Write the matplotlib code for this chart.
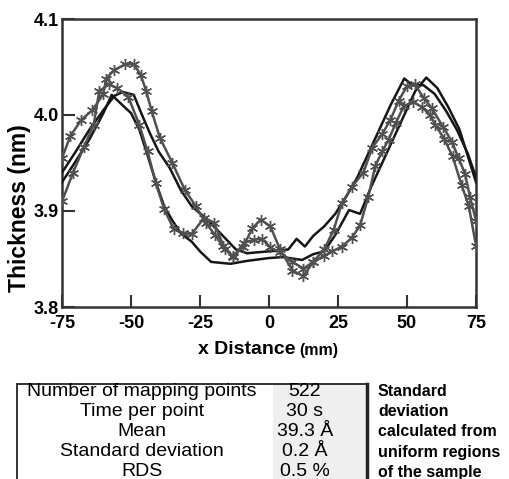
import matplotlib
matplotlib.use('Agg')
import matplotlib.pyplot as plt
from matplotlib.patches import Rectangle

# данные кривых (толщина, нм) по координате x, мм
black_a_x = [-75, -70, -65, -60, -57, -53, -50, -47, -44, -41, -38, -35, -32, -28, -25, -21,
             -14, -8, 0, 5, 12, 16, 20, 24, 29, 33, 37, 41, 45, 49, 53, 57, 61, 65, 69, 75]
black_a_y = [3.930, 3.952, 3.975, 4.002, 4.021, 4.010, 4.002, 3.985, 3.958, 3.930, 3.905, 3.890,
             3.877, 3.868, 3.858, 3.847, 3.845, 3.848, 3.851, 3.852, 3.849, 3.855, 3.858, 3.875,
             3.901, 3.897, 3.925, 3.950, 3.975, 4.000, 4.025, 4.039, 4.028, 4.008, 3.985, 3.930]

black_b_x = [-75, -70, -65, -60, -56, -53, -49, -46, -43, -40, -36, -32, -28, -24, -20, -16,
             -12, -8, -4, 0, 4, 7, 10, 13, 16, 20, 24, 28, 32, 36, 40, 44, 49, 52, 56, 60,
             64, 68, 72, 75]
black_b_y = [3.940, 3.962, 3.985, 4.005, 4.020, 4.024, 4.021, 4.000, 3.980, 3.962, 3.945, 3.922,
             3.905, 3.895, 3.884, 3.872, 3.860, 3.856, 3.857, 3.858, 3.859, 3.860, 3.871, 3.863,
             3.874, 3.884, 3.897, 3.915, 3.935, 3.960, 3.985, 4.010, 4.038, 4.031, 4.031, 4.022,
             4.005, 3.985, 3.960, 3.935]

star_a_x = [-75, -72, -68, -64, -60, -59, -56, -52, -49, -46.5, -44.5, -42.5, -39.5, -35, -30.5,
            -26.5, -23, -19.5, -16, -13, -9.5, -6, -3, 0.5, 4, 8.5, 12.5, 16, 19.8, 23, 26.4, 30,
            33, 36, 38.5, 41, 43.3, 46, 48.8, 52.2, 55.5, 58.4, 60.2, 63.5, 66.5, 69.8, 72.4, 75]
star_a_y = [3.955, 3.978, 3.995, 4.005, 4.022, 4.038, 4.047, 4.053, 4.053, 4.042, 4.025, 4.004,
            3.976, 3.950, 3.922, 3.905, 3.888, 3.875, 3.860, 3.853, 3.862, 3.882, 3.891, 3.884,
            3.860, 3.838, 3.832, 3.847, 3.853, 3.858, 3.863, 3.872, 3.885, 3.915, 3.947, 3.962,
            3.974, 3.992, 4.009, 4.014, 4.008, 4.000, 3.990, 3.975, 3.957, 3.927, 3.905, 3.864]

star_b_x = [-75, -71, -67, -63.5, -61.5, -58, -55, -51, -47, -44, -41, -38, -34.5, -31, -28,
            -23.5, -20, -16.5, -13, -9, -5.5, -2.5, 0.5, 4, 8.5, 12.5, 16, 20, 23.4, 26.4, 30,
            34.2, 37.4, 41, 44, 47, 50, 52.8, 56, 59, 63, 66.3, 68.7, 71, 72.8, 75]
star_b_y = [3.910, 3.940, 3.967, 3.990, 4.025, 4.032, 4.028, 4.019, 3.990, 3.962, 3.929, 3.902,
            3.881, 3.877, 3.876, 3.893, 3.888, 3.864, 3.852, 3.867, 3.870, 3.871, 3.862, 3.857,
            3.847, 3.840, 3.847, 3.860, 3.880, 3.908, 3.925, 3.940, 3.966, 3.980, 3.995, 4.015,
            4.030, 4.032, 4.018, 4.007, 3.988, 3.972, 3.955, 3.939, 3.915, 3.890]

x_ticks = [-75, -50, -25, 0, 25, 50, 75]
y_ticks = [3.8, 3.9, 4.0, 4.1]

# таблица под графиком
table_names = ['Number of mapping points', 'Time per point', 'Mean', 'Standard deviation', 'RDS']
table_values = ['522', '30 s', '39.3 Å', '0.2 Å', '0.5 %']
side_note = ['Standard', 'deviation', 'calculated from', 'uniform regions', 'of the sample']

plt.rcParams['font.family'] = ['Liberation Sans', 'DejaVu Sans']

W, H = 510, 479
fig = plt.figure(figsize=(W / 100, H / 100), dpi=100)
fig.patch.set_facecolor('white')


def fx(px):
    return px / W


def fy(py):
    return 1 - py / H


ax = fig.add_axes([fx(62), fy(307), fx(476) - fx(62), fy(19) - fy(307)])

dark = '#161616'
gray = '#505050'
ax.plot(black_a_x, black_a_y, color=dark, lw=1.8, zorder=3)
ax.plot(black_b_x, black_b_y, color=dark, lw=1.8, zorder=3)
ax.plot(star_a_x, star_a_y, color=gray, lw=1.8, marker=(6, 2, 0), ms=8, mew=1.0, zorder=4)
ax.plot(star_b_x, star_b_y, color=gray, lw=1.8, marker=(6, 2, 0), ms=8, mew=1.0, zorder=4)

ax.set_xlim(-75, 75)
ax.set_ylim(3.8, 4.1)
ax.set_xticks(x_ticks)
ax.set_yticks(y_ticks)
ax.set_xticklabels([str(t) for t in x_ticks], fontweight='bold', fontsize=13)
ax.set_yticklabels(['%.1f' % t for t in y_ticks], fontweight='bold', fontsize=13)
ax.tick_params(axis='both', direction='in', length=9, width=1.5, color='#333333')
ax.tick_params(axis='x', pad=6)
ax.tick_params(axis='y', pad=2)
for s in ax.spines.values():
    s.set_linewidth(1.8)
    s.set_color('#333333')

fig.text(fx(20), fy(208), 'Thickness (nm)', rotation=90, ha='center', va='center',
         fontsize=16.5, fontweight='bold')
fig.text(fx(296), fy(350), 'x Distance', ha='right', va='center',
         fontsize=14, fontweight='bold')
fig.text(fx(299), fy(351), '(mm)', ha='left', va='center',
         fontsize=11.5, fontweight='bold')

# рамка таблицы
fig.add_artist(Rectangle((fx(273), 0), fx(366) - fx(273), fy(384), transform=fig.transFigure,
                         facecolor='#efefef', edgecolor='none', zorder=0))
fig.add_artist(Rectangle((fx(17), -0.01), fx(367) - fx(17), fy(384) + 0.01, transform=fig.transFigure,
                         facecolor='none', edgecolor='#222222', lw=1.3, zorder=1))
fig.add_artist(plt.Line2D([fx(367), fx(367)], [0, fy(384)], transform=fig.transFigure,
                          color='#222222', lw=2.5))

row_y = [391, 412, 432, 452, 472]
for name, val, note, y in zip(table_names, table_values, side_note, row_y):
    fig.text(fx(142), fy(y), name, ha='center', va='center', fontsize=14)
    fig.text(fx(305), fy(y), val, ha='center', va='center', fontsize=14)
    fig.text(fx(378), fy(y), note, ha='left', va='center', fontsize=11.5, fontweight='bold')

fig.savefig('out.png', dpi=100)
